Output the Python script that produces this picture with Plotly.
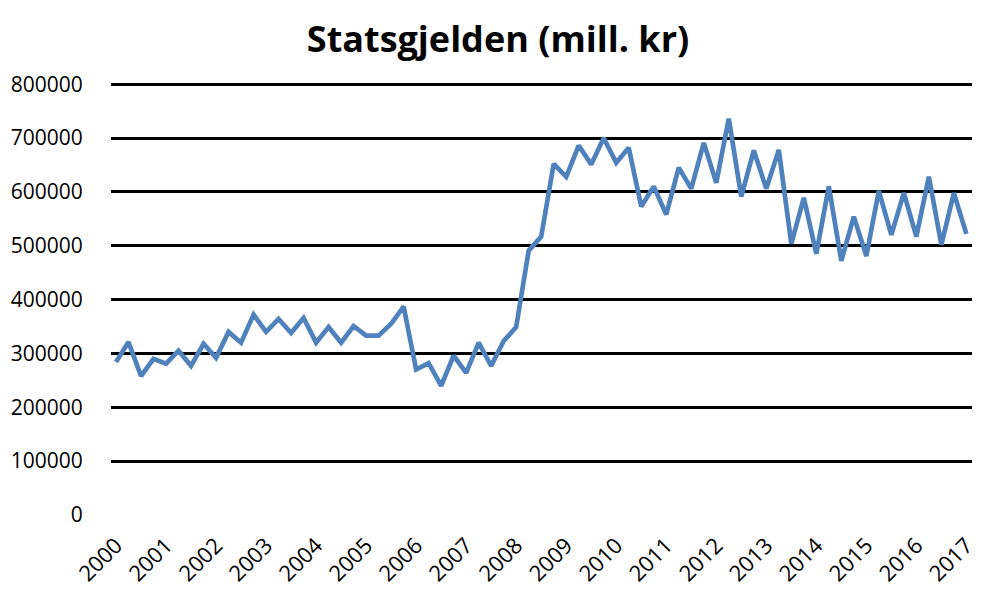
import plotly.graph_objects as go

years = list(range(2000, 2018))
quarters = [f"{y} K{q}" for y in range(2000, 2018) for q in range(1, 5)][:69]

debt = [
    284000, 321000, 258000, 290000, 281000, 305000, 277000, 318000,
    292000, 340000, 320000, 372000, 340000, 364000, 338000, 366000,
    320000, 349000, 320000, 351000, 333000, 333000, 355000, 387000,
    270000, 282000, 240000, 296000, 264000, 320000, 277000, 323000,
    349000, 491000, 517000, 652000, 628000, 686000, 651000, 700000,
    654000, 682000, 573000, 610000, 558000, 645000, 606000, 691000,
    617000, 736000, 591000, 677000, 606000, 678000, 504000, 589000,
    485000, 610000, 472000, 554000, 481000, 602000, 520000, 598000,
    517000, 628000, 502000, 598000, 522000,
]

y_ticks = [0, 100000, 200000, 300000, 400000, 500000, 600000, 700000, 800000]

fig = go.Figure()
fig.add_trace(go.Scatter(
    x=quarters, y=debt, mode="lines",
    line=dict(color="#4F81BD", width=4.7),
    hoverinfo="x+y",
))

fig.update_layout(
    width=1000, height=600,
    paper_bgcolor="white", plot_bgcolor="white",
    margin=dict(l=103, r=36, t=74, b=93),
    showlegend=False,
    title=dict(
        text="<b>Statsgjelden (mill. kr)</b>",
        x=0.49, xanchor="center", y=0.947, yanchor="middle",
        font=dict(family="Open Sans", size=36, color="black"),
    ),
    font=dict(family="Open Sans", color="black"),
)
fig.update_xaxes(
    type="category",
    range=[-0.4, 68.45],
    tickmode="array",
    tickvals=[f"{y} K1" for y in years],
    ticktext=[str(y) for y in years],
    tickangle=-45,
    tickfont=dict(family="Open Sans", size=22, color="black"),
    ticks="outside", ticklen=8, tickcolor="rgba(0,0,0,0)",
    showgrid=False, showline=False, zeroline=False,
    automargin=False,
)
fig.update_yaxes(
    range=[0, 804000],
    tickmode="array",
    tickvals=y_ticks,
    ticktext=[str(v) for v in y_ticks],
    tickfont=dict(family="Open Sans", size=21, color="black"),
    ticks="outside", ticklen=23, tickcolor="rgba(0,0,0,0)",
    showgrid=True, gridcolor="black", gridwidth=2.5,
    zeroline=True, zerolinecolor="white", zerolinewidth=4,
    showline=False, automargin=False,
)

fig.write_html("out.html")
